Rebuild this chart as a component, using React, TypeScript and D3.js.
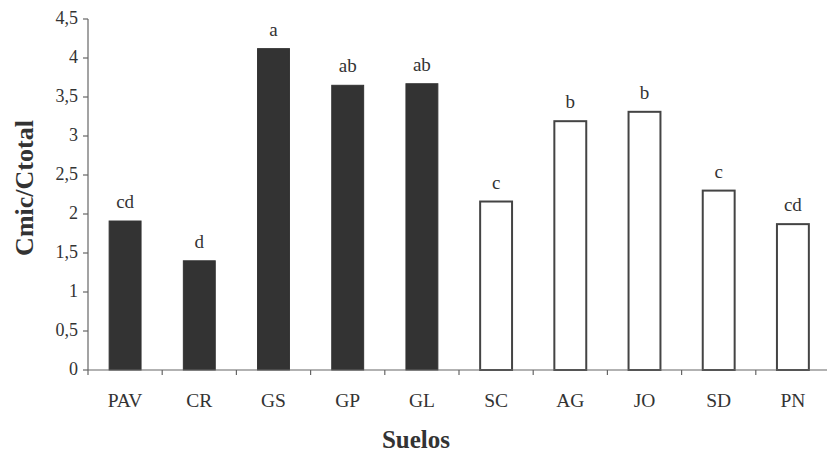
import React from 'react'
import * as d3 from 'd3'

const suelos = ['PAV', 'CR', 'GS', 'GP', 'GL', 'SC', 'AG', 'JO', 'SD', 'PN']
const cmicCtotal = [1.91, 1.4, 4.12, 3.65, 3.67, 2.16, 3.19, 3.31, 2.3, 1.87]
const letras = ['cd', 'd', 'a', 'ab', 'ab', 'c', 'b', 'b', 'c', 'cd']
const rellenos = [true, true, true, true, true, false, false, false, false, false]
const yTicks = [0, 0.5, 1, 1.5, 2, 2.5, 3, 3.5, 4, 4.5]

const W = 827
const H = 454
const left = 88
const right = 830
const top = 19
const bottom = 370

const App = () => {
	const x = d3.scaleBand<string>()
		.domain(suelos)
		.range([left, right])
		.paddingInner(0.57)
		.paddingOuter(0.285)

	const y = d3.scaleLinear()
		.domain([0, 4.5])
		.range([bottom, top])

	const step = x.step()
	const fmt = (v: number) => String(v).replace('.', ',')
	const font = '"Liberation Serif", "Times New Roman", serif'

	return (
		<svg width={W} height={H} style={{ position: 'absolute', left: 0, top: 0, background: '#fff' }} fontFamily={font}>
			{/* bars */}
			{suelos.map((s, i) => (
				<rect
					key={s}
					x={x(s)}
					y={y(cmicCtotal[i])}
					width={x.bandwidth()}
					height={bottom - y(cmicCtotal[i])}
					fill={rellenos[i] ? '#333' : '#fff'}
					stroke={rellenos[i] ? '#333' : '#444'}
					strokeWidth={rellenos[i] ? 1 : 2}
				/>
			))}
			{suelos.map((s, i) => (
				<text
					key={'l' + s}
					x={(x(s) as number) + x.bandwidth() / 2}
					y={y(cmicCtotal[i]) - 13}
					textAnchor="middle"
					fontSize={19}
					fill="#333"
				>{letras[i]}</text>
			))}

			{/* y axis */}
			<line x1={left} x2={left} y1={top} y2={bottom} stroke="#666" strokeWidth={1.2} />
			{yTicks.map(t => (
				<g key={t}>
					<line x1={left - 5} x2={left} y1={y(t)} y2={y(t)} stroke="#666" strokeWidth={1.2} />
					<text x={left - 10} y={y(t) + 5} textAnchor="end" fontSize={18} fill="#333">{fmt(t)}</text>
				</g>
			))}

			{/* x axis */}
			<line x1={left} x2={right} y1={bottom} y2={bottom} stroke="#666" strokeWidth={1.2} />
			{d3.range(suelos.length + 1).map(k => (
				<line key={k} x1={left + k * step} x2={left + k * step} y1={bottom} y2={bottom + 5} stroke="#666" strokeWidth={1.2} />
			))}
			{suelos.map(s => (
				<text key={'x' + s} x={(x(s) as number) + x.bandwidth() / 2} y={407} textAnchor="middle" fontSize={19.5} fill="#333">{s}</text>
			))}

			{/* titles */}
			<text x={416} y={448} textAnchor="middle" fontSize={25} fontWeight="bold" fill="#333">Suelos</text>
			<text transform="translate(33,188) rotate(-90)" textAnchor="middle" fontSize={26} fontWeight="bold" fill="#333">Cmic/Ctotal</text>
		</svg>
	)
}

export default App
